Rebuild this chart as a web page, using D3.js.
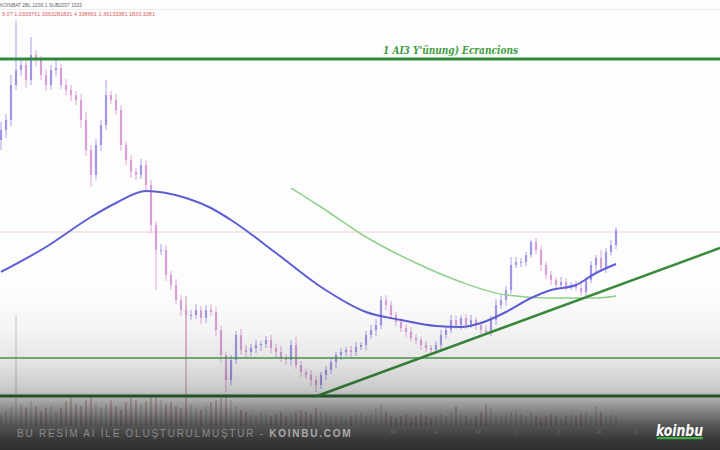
<!DOCTYPE html>
<html><head><meta charset="utf-8">
<script src="https://cdn.jsdelivr.net/npm/d3@7"></script>
<style>html,body{margin:0;padding:0;background:#fff;overflow:hidden}svg{display:block}</style>
</head><body><svg id="c" width="720" height="450"></svg>
<script>
// ---- data (price units) ----
const firstOpen = 310;
const closes = [320,330,365,380,385,370,395,390,375,365,
  380,382,365,360,355,350,330,300,275,305,
  325,355,350,340,305,290,278,275,285,265,
  225,200,200,175,165,150,140,135,135,140,
  132,140,138,120,95,70,90,115,100,98,
  102,105,106,110,102,98,92,90,105,85,
  78,75,70,65,75,80,88,95,98,100,
  98,103,105,115,120,125,150,145,135,128,
  122,118,112,110,105,102,100,105,115,120,
  130,125,132,125,130,125,120,118,130,145,
  150,160,185,188,188,195,208,200,185,175,
  170,165,168,164,165,162,158,170,185,192,
  182,198,205,220];
const wickUp = [8,6,10,50,5,6,18,5,4,6, 5,8,4,6,5,4,6,8,5,6, 5,15,4,6,5,4,5,4,6,5,
  5,4,6,5,4,6,5,4,5,6, 4,5,6,5,4,3,5,4,6,5, 4,5,3,4,5,4,6,4,5,8,
  4,3,5,4,3,4,5,3,4,3, 4,5,3,4,5,6,4,5,4,3, 4,3,5,4,3,4,3,4,5,4,
  5,4,3,4,5,3,4,5,4,6, 5,4,8,5,4,3,2,4,5,3, 4,3,5,4,3,4,5,3,4,3, 8,4,5,3];
const wickDn = [10,8,6,5,6,8,5,6,5,6, 5,6,4,5,6,5,8,6,12,5, 6,5,4,5,6,5,6,5,4,6,
  8,40,5,6,5,4,6,45,5,4, 6,5,4,6,8,12,5,4,5,6, 4,5,6,4,5,6,4,5,6,4,
  5,4,6,7,4,5,4,6,5,4, 5,4,3,5,4,6,4,5,3,4, 4,5,3,4,5,4,3,4,5,4,
  3,4,5,4,3,5,4,3,4,5, 4,6,4,3,5,4,3,4,6,4, 5,4,3,5,4,3,4,5,3,8, 4,5,3,4];
const volumes = [12,15,20,110,22,18,25,20,15,18, 20,15,18,25,28,22,20,26,30,24,
  18,22,26,20,16,24,28,26,22,25, 30,28,26,22,24,20,18,130,22,18,
  16,20,24,26,28,32,26,20,16,14, 12,10,14,12,10,12,14,10,12,14,
  16,14,12,18,14,12,10,12,10,8, 10,12,14,10,12,18,22,14,10,8,
  10,12,8,10,12,10,8,10,12,10, 14,20,12,10,8,10,14,22,18,12,
  10,12,14,16,12,10,14,10,8,10, 12,10,8,10,12,10,12,14,10,20, 14,10,12,10];
// moving averages sampled at candle indices
const maBlueIdx = [0,9,18,23,29,37,42,46,55,64,73,80,87,92,96,101,106,110,115,119,123];
const maBlueVal = [178,203,233,247,259,252,242,230,197,163,138,130,124,123,127,138,152,160,165,177,186];
const maGreenIdx = [58,64,73,83,92,101,110,119,123];
const maGreenVal = [262,243,213,187,168,155,152,152,154];
// levels
const resistance = 391, midSupport = 92, mainSupport = 54, lastPriceLine = 218;
const trendIdx = [63.2, 143.8], trendVal = [54, 202];
const tickLabels = ["M","A","M","J","J","A","S"];
const tickIdx = [78.4, 87, 95.4, 103.2, 111.4, 119.6, 127];
const titleText = "1 AI3 Y'ünung) Ecrancions";

// ---- drawing ----
const svg = d3.select('#c');
const W = 720, H = 450;
const x = d3.scaleLinear().domain([0, 123]).range([1, 616]);
const y = d3.scaleLinear().domain([0, 450]).range([450, 0]);
const vy = d3.scaleLinear().domain([0, 100]).range([426, 326]);

svg.append('rect').attr('width', W).attr('height', H).attr('fill', '#fdfdfd');
svg.append('line').attr('x1', 0).attr('x2', W).attr('y1', 9.5).attr('y2', 9.5).attr('stroke', '#ececec');

// last price line
svg.append('line').attr('x1', 0).attr('x2', W).attr('y1', y(lastPriceLine)).attr('y2', y(lastPriceLine))
  .attr('stroke', '#f2cccc').attr('stroke-width', 1);

const candles = closes.map((c, i) => {
  const o = i === 0 ? firstOpen : closes[i - 1];
  return {i, o, c, h: Math.max(o, c) + wickUp[i], l: Math.min(o, c) - wickDn[i], v: volumes[i]};
});

// volume
svg.append('g').selectAll('rect').data(candles).join('rect')
  .attr('x', d => x(d.i) - 0.7).attr('width', 1.4)
  .attr('y', d => vy(d.v)).attr('height', d => vy(0) - vy(d.v))
  .attr('fill', d => d.c >= d.o ? '#a0a0a0' : '#a85050').attr('opacity', 0.42);

// candles
const up = '#978de0', dn = '#d497d2';
const cg = svg.append('g');
cg.selectAll('line').data(candles).join('line')
  .attr('x1', d => x(d.i)).attr('x2', d => x(d.i))
  .attr('y1', d => y(d.h)).attr('y2', d => y(d.l))
  .attr('stroke', d => d.c >= d.o ? '#aaa3ea' : '#e0a8d8').attr('stroke-width', 1);
cg.selectAll('rect').data(candles).join('rect')
  .attr('x', d => x(d.i) - 1.1).attr('width', 2.2)
  .attr('y', d => y(Math.max(d.o, d.c)))
  .attr('height', d => Math.max(1, Math.abs(y(d.o) - y(d.c))))
  .attr('fill', d => d.c >= d.o ? up : dn).attr('opacity', 0.85);

// moving averages
const lineGen = d3.line().x(d => x(d[0])).y(d => y(d[1])).curve(d3.curveMonotoneX);
svg.append('path').datum(maGreenIdx.map((k, j) => [k, maGreenVal[j]]))
  .attr('d', lineGen).attr('fill', 'none').attr('stroke', '#8fd18a').attr('stroke-width', 1.5);
svg.append('path').datum(maBlueIdx.map((k, j) => [k, maBlueVal[j]]))
  .attr('d', lineGen).attr('fill', 'none').attr('stroke', '#5b5fd3').attr('stroke-width', 2);

// horizontal levels
const hl = (v, col, w) => svg.append('line').attr('x1', 0).attr('x2', W)
  .attr('y1', y(v)).attr('y2', y(v)).attr('stroke', col).attr('stroke-width', w);
hl(resistance, '#2f8a3c', 3);
hl(midSupport, '#4f9d55', 1.5);
hl(mainSupport, '#2b6e32', 3);

// trendline
svg.append('line').attr('x1', x(trendIdx[0])).attr('y1', y(trendVal[0]))
  .attr('x2', x(trendIdx[1])).attr('y2', y(trendVal[1]))
  .attr('stroke', '#3a8a3c').attr('stroke-width', 2.5);

// title text
svg.append('text').attr('x', 383).attr('y', 54).text(titleText)
  .attr('font-family', 'DejaVu Serif, serif').attr('font-style', 'italic').attr('font-weight', 'bold')
  .attr('font-size', 11).attr('fill', '#3f9c3f').attr('textLength', 135).attr('lengthAdjust', 'spacingAndGlyphs');

// header texts
svg.append('text').attr('x', 0).attr('y', 7).text('KOINBAT 2BL 12S6 1 SUB2037 1333')
  .attr('font-family', 'Liberation Sans, sans-serif').attr('font-size', 6).attr('fill', '#666')
  .attr('textLength', 82).attr('lengthAdjust', 'spacingAndGlyphs');
svg.append('text').attr('x', 2).attr('y', 16).text('9 0? 1.0333761 3363281831 4 338661 1.36133381  1833.3381')
  .attr('font-family', 'Liberation Sans, sans-serif').attr('font-size', 5.5).attr('fill', '#e06060')
  .attr('textLength', 153).attr('lengthAdjust', 'spacingAndGlyphs');

// bottom dark gradient overlay
const defs = svg.append('defs');
const gr = defs.append('linearGradient').attr('id', 'fade').attr('x1', 0).attr('x2', 0)
  .attr('gradientUnits', 'userSpaceOnUse').attr('y1', 290).attr('y2', 450);
[[0,0],[0.25,0.04],[0.44,0.1],[0.62,0.22],[0.69,0.36],[0.75,0.5],[0.84,0.7],[0.94,0.84],[1,0.87]]
  .forEach(([o, a]) => gr.append('stop').attr('offset', o).attr('stop-color', '#111').attr('stop-opacity', a));
svg.append('rect').attr('x', 0).attr('y', 290).attr('width', W).attr('height', 160).attr('fill', 'url(#fade)');

// tick labels
svg.append('g').selectAll('text').data(tickLabels).join('text')
  .attr('x', (d, k) => x(tickIdx[k])).attr('y', 434).attr('text-anchor', 'middle')
  .text(d => d).attr('font-family', 'Liberation Sans, sans-serif').attr('font-size', 6).attr('fill', '#666');

// watermark
const wm = svg.append('text').attr('x', 17).attr('y', 437)
  .attr('font-family', 'Liberation Sans, Arial, sans-serif').attr('font-size', 10)
  .attr('letter-spacing', 1.75);
wm.append('tspan').text('BU RESİM AI İLE OLUŞTURULMUŞTUR - ').attr('fill', '#8a8a8a');
wm.append('tspan').text('KOINBU.COM').attr('fill', '#aaaaaa').attr('font-weight', 'bold');

// logo
svg.append('text').attr('x', 656).attr('y', 436).text('koinbu')
  .attr('font-family', 'DejaVu Sans, sans-serif').attr('font-weight', 'bold').attr('font-style', 'italic')
  .attr('font-size', 15).attr('fill', '#ffffff').attr('textLength', 47).attr('lengthAdjust', 'spacingAndGlyphs');
svg.append('rect').attr('x', 657).attr('y', 437).attr('width', 46).attr('height', 2.2).attr('fill', '#3db047');
</script></body></html>
